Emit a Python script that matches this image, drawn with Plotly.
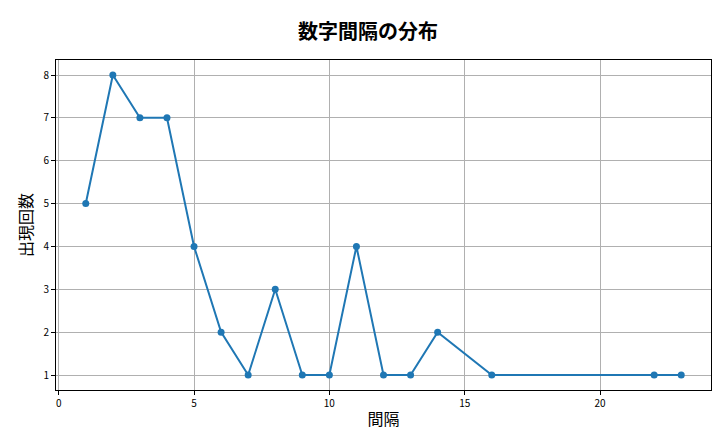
import plotly.graph_objects as go

gaps = [1, 2, 3, 4, 5, 6, 7, 8, 9, 10, 11, 12, 13, 14, 16, 22, 23]
counts = [5, 8, 7, 7, 4, 2, 1, 3, 1, 1, 4, 1, 1, 2, 1, 1, 1]

fig = go.Figure()
fig.add_trace(go.Scatter(
    x=gaps, y=counts, mode="lines+markers",
    line=dict(color="#1f77b4", width=2),
    marker=dict(color="#1f77b4", size=7),
))

axis_common = dict(
    showgrid=True, gridcolor="#b0b0b0", gridwidth=1,
    showline=True, linecolor="black", linewidth=1, mirror=True,
    ticks="outside", ticklen=4, tickcolor="black", zeroline=False,
    tickfont=dict(size=10, color="black"), automargin=False,
)

fig.update_layout(
    width=720, height=432,
    paper_bgcolor="white", plot_bgcolor="white",
    font=dict(family="Noto Sans CJK JP", color="black"),
    title=dict(text="<b>数字間隔の分布</b>", x=0.5, xanchor="center",
               y=0.945, yanchor="middle", font=dict(size=20), automargin=False),
    margin=dict(l=48, r=17, t=52, b=50),
    showlegend=False,
    xaxis=dict(axis_common, range=[-0.1, 24.1], tickvals=[0, 5, 10, 15, 20],
               title=dict(text="間隔", font=dict(size=16), standoff=4)),
    yaxis=dict(axis_common, range=[0.65, 8.35], tickvals=list(range(1, 9)),
               title=dict(text="出現回数", font=dict(size=16), standoff=6)),
)

fig.write_html("out.html")
